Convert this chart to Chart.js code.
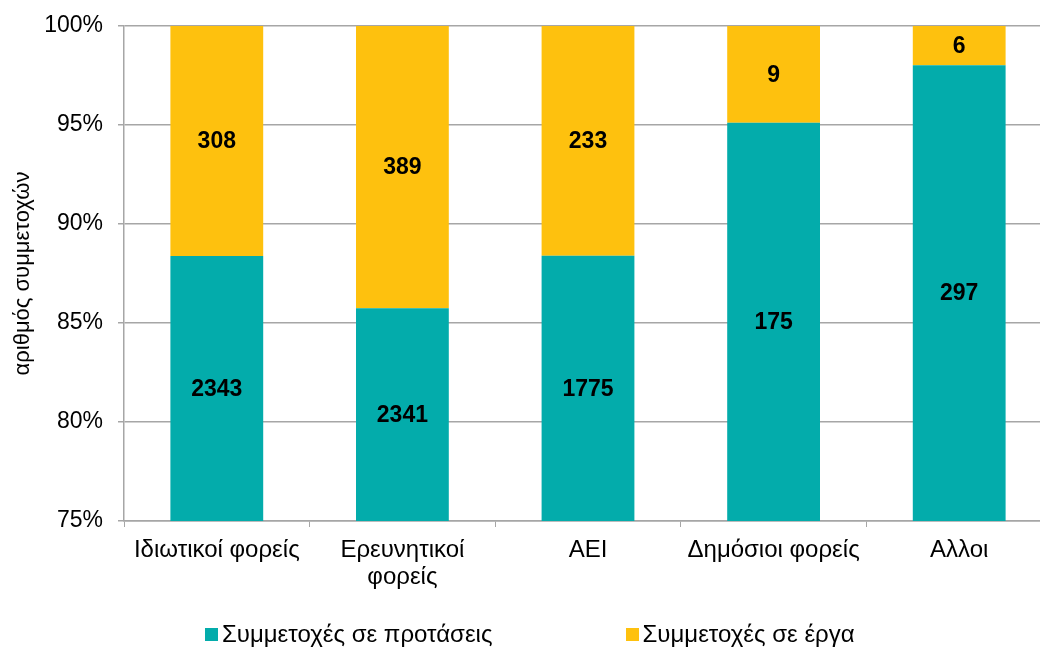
<!DOCTYPE html>
<html>
<head>
<meta charset="utf-8">
<script src="https://cdn.jsdelivr.net/npm/chart.js@4/dist/chart.umd.min.js"></script>
<style>
  html, body { margin: 0; padding: 0; background: #fff; overflow: hidden; }
  #wrap { position: relative; width: 1052px; height: 647px; }
  #legend { position: absolute; left: 205px; top: 620px; display: flex; gap: 133px;
            font-family: "Liberation Sans", Arial, sans-serif; font-size: 24px; color: #000; }
  #legend .item { display: flex; align-items: center; white-space: nowrap; }
  #legend .box { width: 13px; height: 13px; margin-right: 4px; }
</style>
</head>
<body>
<div id="wrap">
  <canvas id="myChart" width="1052" height="647"></canvas>
  <div id="legend"></div>
</div>
<script>
// κατηγορίες φορέων
const categories = [['Ιδιωτικοί φορείς'], ['Ερευνητικοί', 'φορείς'], ['ΑΕΙ'], ['Δημόσιοι φορείς'], ['Αλλοι']];
// πλήθος συμμετοχών
const proposals = [2343, 2341, 1775, 175, 297]; // Συμμετοχές σε προτάσεις
const projects = [308, 389, 233, 9, 6];        // Συμμετοχές σε έργα
const yTicks = [75, 80, 85, 90, 95, 100];

const totals = proposals.map((v, i) => v + projects[i]);
const pct = arr => arr.map((v, i) => v / totals[i] * 100);

const font = 'Liberation Sans';

// ετικέτες τιμών μέσα στις μπάρες
const valueLabels = {
  id: 'valueLabels',
  afterDatasetsDraw(chart) {
    const ctx = chart.ctx;
    const area = chart.chartArea;
    ctx.save();
    ctx.font = 'bold 23px "' + font + '"';
    ctx.fillStyle = '#000';
    ctx.textAlign = 'center';
    ctx.textBaseline = 'middle';
    chart.data.datasets.forEach((ds, di) => {
      chart.getDatasetMeta(di).data.forEach((bar, i) => {
        const top = Math.max(bar.y, area.top);
        const bottom = Math.min(bar.base, area.bottom);
        ctx.fillText(ds.counts[i], bar.x, (top + bottom) / 2 + 1);
      });
    });
    ctx.restore();
  }
};

const chart = new Chart('myChart', {
  type: 'bar',
  data: {
    labels: categories,
    datasets: [
      { label: 'Συμμετοχές σε προτάσεις', data: pct(proposals), counts: proposals, backgroundColor: '#03acab' },
      { label: 'Συμμετοχές σε έργα', data: pct(projects), counts: projects, backgroundColor: '#fec10e' }
    ]
  },
  options: {
    responsive: false,
    animation: false,
    layout: { padding: { top: 26, right: 0, bottom: 0, left: 0 } },
    datasets: { bar: { barPercentage: 0.5, categoryPercentage: 1 } },
    plugins: { legend: { display: false }, tooltip: { enabled: false } },
    scales: {
      x: {
        stacked: true,
        grid: { drawOnChartArea: false, drawTicks: true, tickLength: 6, color: '#a6a6a6' },
        border: { color: '#a6a6a6', width: 1.5 },
        ticks: { color: '#000', padding: 10, maxRotation: 0, font: { family: font, size: 24, lineHeight: 1.12 } },
        afterFit: scale => { scale.height = 126; scale.paddingLeft = 0; scale.paddingRight = 0; }
      },
      y: {
        stacked: true,
        min: yTicks[0],
        max: yTicks[yTicks.length - 1],
        afterBuildTicks: scale => { scale.ticks = yTicks.map(v => ({ value: v })); },
        grid: { color: '#a6a6a6', lineWidth: 1.5, tickLength: 6 },
        border: { color: '#a6a6a6', width: 1.5 },
        ticks: { color: '#000', padding: 15, font: { family: font, size: 23 }, callback: v => v + '%' },
        title: { display: true, text: 'αριθμός συμμετοχών', color: '#000', padding: { top: 10, bottom: 0 },
                 font: { family: font, size: 22 } },
        afterFit: scale => { scale.width = 124; scale.paddingTop = 0; scale.paddingBottom = 0; }
      }
    }
  },
  plugins: [valueLabels]
});

// υπόμνημα
const legend = document.getElementById('legend');
chart.data.datasets.forEach(ds => {
  const item = document.createElement('div');
  item.className = 'item';
  item.innerHTML = `<span class="box" style="background:${ds.backgroundColor}"></span><span>${ds.label}</span>`;
  legend.appendChild(item);
});
</script>
</body>
</html>
